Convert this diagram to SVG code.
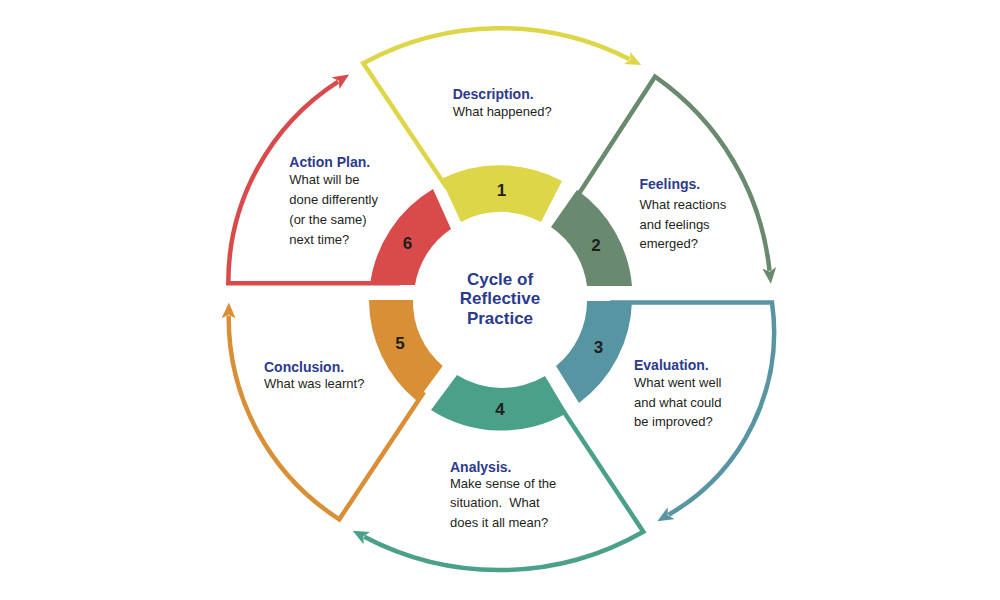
<svg xmlns="http://www.w3.org/2000/svg" width="1000" height="600" viewBox="0 0 1000 600">
<defs>
<style>
.num{font-family:"Liberation Sans",Arial,sans-serif;font-size:17px;font-weight:bold;fill:#1E1E1E;text-anchor:middle}
.hd{font-family:"Liberation Sans",Arial,sans-serif;font-size:14px;font-weight:bold;fill:#2B3A8E}
.bd{font-family:"Liberation Sans",Arial,sans-serif;font-size:13px;fill:#231F20;white-space:pre}
.title{font-family:"Liberation Sans",Arial,sans-serif;font-size:17px;font-weight:bold;fill:#2B3A8E;text-anchor:middle}
.c{fill:none;stroke-width:4.5;stroke-linejoin:miter;stroke-miterlimit:10}
</style>
<marker id="aY" viewBox="0 0 16 14" refX="3" refY="7" markerWidth="16" markerHeight="14" markerUnits="userSpaceOnUse" orient="auto"><path d="M0,0 L16,7 L0,14 L4,7 Z" fill="#DCD648"/></marker>
<marker id="aG" viewBox="0 0 16 14" refX="3" refY="7" markerWidth="16" markerHeight="14" markerUnits="userSpaceOnUse" orient="auto"><path d="M0,0 L16,7 L0,14 L4,7 Z" fill="#698A6E"/></marker>
<marker id="aT" viewBox="0 0 16 14" refX="3" refY="7" markerWidth="16" markerHeight="14" markerUnits="userSpaceOnUse" orient="auto"><path d="M0,0 L16,7 L0,14 L4,7 Z" fill="#5795A3"/></marker>
<marker id="aE" viewBox="0 0 16 14" refX="3" refY="7" markerWidth="16" markerHeight="14" markerUnits="userSpaceOnUse" orient="auto"><path d="M0,0 L16,7 L0,14 L4,7 Z" fill="#4BA08A"/></marker>
<marker id="aO" viewBox="0 0 16 14" refX="3" refY="7" markerWidth="16" markerHeight="14" markerUnits="userSpaceOnUse" orient="auto"><path d="M0,0 L16,7 L0,14 L4,7 Z" fill="#D88F35"/></marker>
<marker id="aR" viewBox="0 0 16 14" refX="3" refY="7" markerWidth="16" markerHeight="14" markerUnits="userSpaceOnUse" orient="auto"><path d="M0,0 L16,7 L0,14 L4,7 Z" fill="#D84B4A"/></marker>
</defs>
<rect width="1000" height="600" fill="#FFFFFF"/>

<g id="connectors">
<path class="c" stroke="#DCD648" d="M447,188 L363.3,63.3 A285,285 0 0 1 629.6,59.2" marker-end="url(#aY)"/>
<path class="c" stroke="#698A6E" d="M575,199.7 L655,76.7 A270,270 0 0 1 769.5,270.8" marker-end="url(#aG)"/>
<path class="c" stroke="#5795A3" d="M610,302.5 L772,302.5 A211,211 0 0 1 668.6,514.7" marker-end="url(#aT)"/>
<path class="c" stroke="#4BA08A" d="M556,400 L643.3,531.7 A290,290 0 0 1 364.2,536.8" marker-end="url(#aE)"/>
<path class="c" stroke="#D88F35" d="M424,392 L339.3,519.3 A239,239 0 0 1 228.7,315.4" marker-end="url(#aO)"/>
<path class="c" stroke="#D84B4A" d="M400,283.3 L228.3,283.3 A239,239 0 0 1 338.1,81.6" marker-end="url(#aR)"/>
</g>

<g id="node-1">
<path fill="#DCD648" d="M441,179 A131,131 0 0 1 562,181 L541,222 A84,84 0 0 0 461,222 Z"/>
<text class="num" x="501.5" y="196">1</text>
<text class="hd" x="452.7" y="99">Description.</text>
<text class="bd" x="452.7" y="115.5">What happened?</text>
</g>

<g id="node-2">
<path fill="#698A6E" d="M577,190 A131,131 0 0 1 632,286 L587,286 A84,84 0 0 0 551,227 Z"/>
<text class="num" x="596" y="251">2</text>
<text class="hd" x="639.5" y="189">Feelings.</text>
<text class="bd" x="639.5" y="209">What reactions</text>
<text class="bd" x="639.5" y="228.5">and feelings</text>
<text class="bd" x="639.5" y="247.5">emerged?</text>
</g>

<g id="node-3">
<path fill="#5795A3" d="M632,301 A131,131 0 0 1 579,403 L556,366 A84,84 0 0 0 587,301 Z"/>
<text class="num" x="598.5" y="352.5">3</text>
<text class="hd" x="634" y="369.5">Evaluation.</text>
<text class="bd" x="634" y="387">What went well</text>
<text class="bd" x="634" y="406.5">and what could</text>
<text class="bd" x="634" y="426">be improved?</text>
</g>

<g id="node-4">
<path fill="#4BA08A" d="M567,413 A131,131 0 0 1 431,410 L457,375 A84,84 0 0 0 545,376 Z"/>
<text class="num" x="500" y="414.5">4</text>
<text class="hd" x="450" y="471.7">Analysis.</text>
<text class="bd" x="450" y="487.5">Make sense of the</text>
<text class="bd" x="450" y="507.3">situation.  What</text>
<text class="bd" x="450" y="526.7">does it all mean?</text>
</g>

<g id="node-5">
<path fill="#D88F35" d="M417,401 A131,131 0 0 1 369,300 L413,300 A84,84 0 0 0 442.7,366 Z"/>
<text class="num" x="400" y="348.5">5</text>
<text class="hd" x="264" y="371.7">Conclusion.</text>
<text class="bd" x="264" y="388.3">What was learnt?</text>
</g>

<g id="node-6">
<path fill="#D84B4A" d="M370,285 A131,131 0 0 1 433,189 L451,229 A84,84 0 0 0 415,285 Z"/>
<text class="num" x="407.5" y="248.5">6</text>
<text class="hd" x="289.3" y="166.5">Action Plan.</text>
<text class="bd" x="289.3" y="184">What will be</text>
<text class="bd" x="289.3" y="204">done differently</text>
<text class="bd" x="289.3" y="224">(or the same)</text>
<text class="bd" x="289.3" y="244">next time?</text>
</g>

<g id="center-title">
<text class="title" x="500" y="284.5">Cycle of</text>
<text class="title" x="500" y="304">Reflective</text>
<text class="title" x="500" y="323.5">Practice</text>
</g>
</svg>
